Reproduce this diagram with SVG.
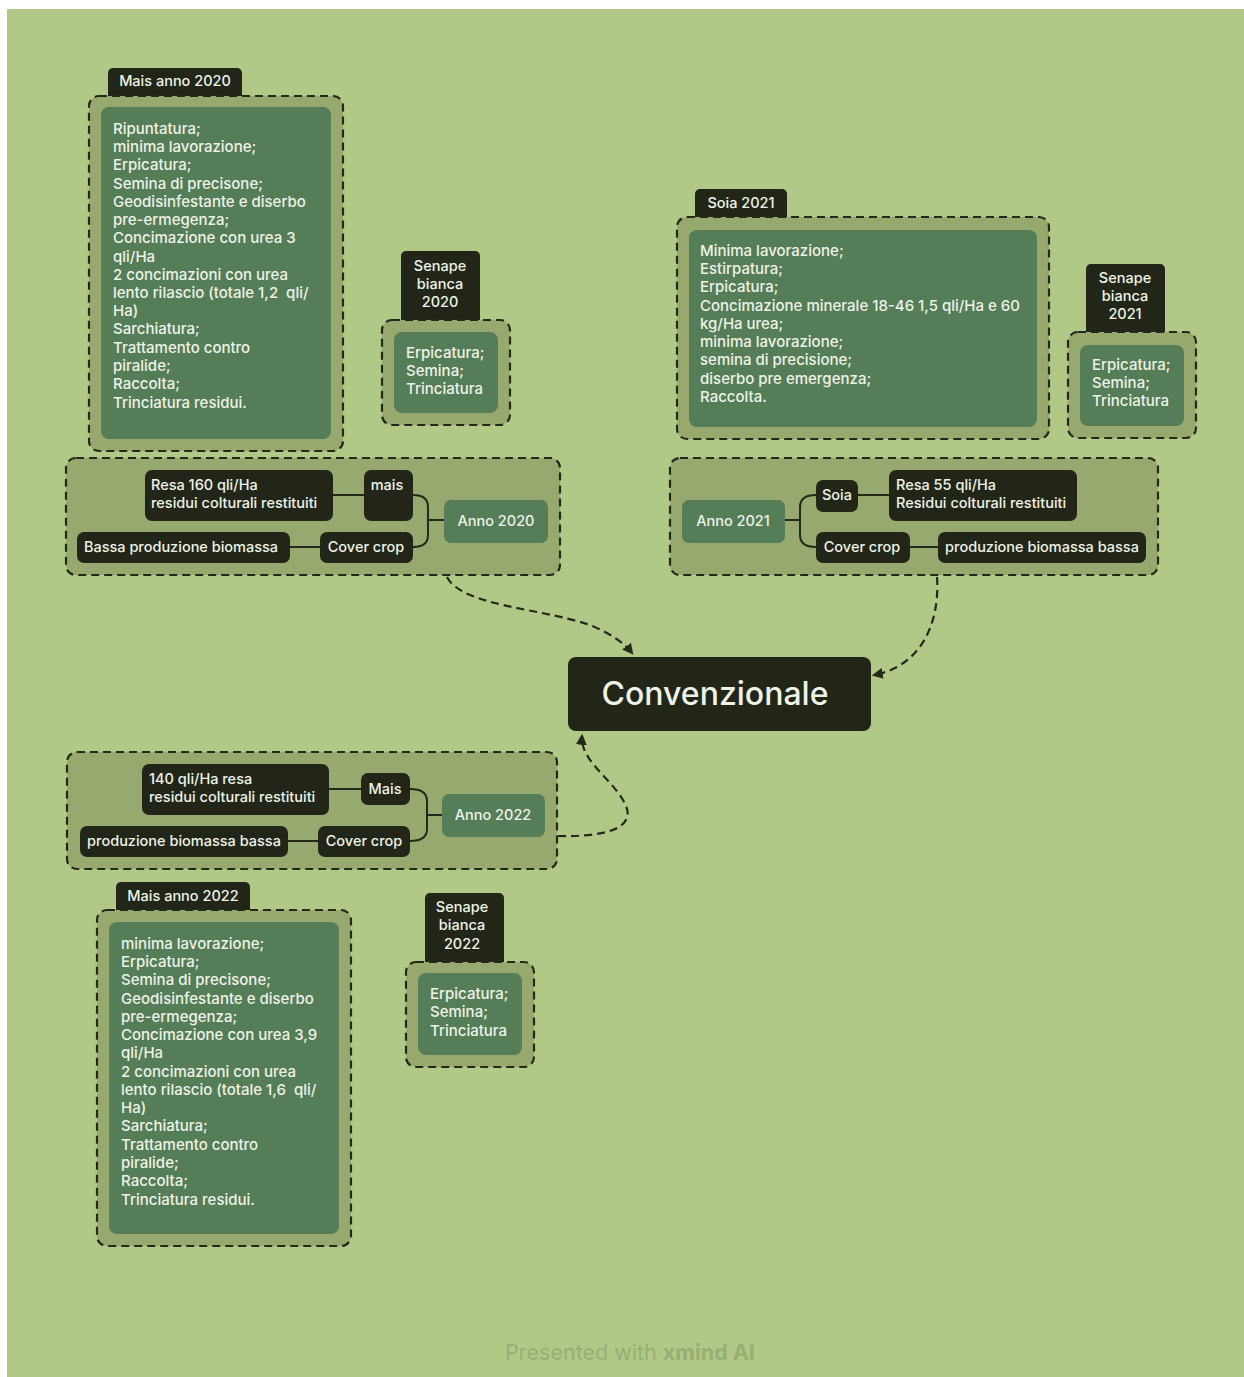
<svg xmlns="http://www.w3.org/2000/svg" width="1244" height="1377" viewBox="0 0 1244 1377">
<style>
text{font-family:Inter,Lato,"Liberation Sans",sans-serif;font-size:14.5px;font-weight:500;}
.bg{fill:#b2c886;}
.grp{fill:#97a96e;stroke:#232a1b;stroke-width:2.2;stroke-dasharray:8 5;}
.inner{fill:#557d58;}
.dark{fill:#222619;}
.tl{fill:#eef3e6;}
.lst text{font-size:15px;}
.pre{white-space:pre;}
.tc{fill:#eef3e6;text-anchor:middle;}
.ln{fill:none;stroke:#232a1b;stroke-width:2;}
.cn{fill:none;stroke:#232a1b;stroke-width:2.2;stroke-dasharray:8 5;}
</style>
<defs>
<marker id="ah" viewBox="0 0 10 10" refX="8" refY="5" markerWidth="5" markerHeight="5" orient="auto">
<path d="M0,0 L10,5 L0,10 z" fill="#232a1b"/>
</marker>
</defs>
<rect x="0" y="0" width="1244" height="1377" fill="#ffffff"/>
<rect class="bg" x="7" y="9" width="1237" height="1368"/>

<g id="connectors">
<path class="cn" d="M447,577 C462,606 540,608 590,625 C612,634 625,644 632,653" marker-end="url(#ah)"/>
<path class="cn" d="M937,577 C940,622 922,666 874,675" marker-end="url(#ah)"/>
<path class="cn" d="M558,836 C600,837 636,830 626,806 C615,780 580,762 582,736" marker-end="url(#ah)"/>
</g>

<g id="mais2020">
<rect class="dark" x="108" y="68" width="134" height="34" rx="5"/>
<text class="tc" x="175" y="86">Mais anno 2020</text>
<rect class="grp" x="89" y="96" width="254" height="355" rx="10"/>
<rect class="inner" x="101" y="107" width="230" height="332" rx="8"/>
<g class="lst">
<text class="tl" x="113" y="134">Ripuntatura;</text>
<text class="tl" x="113" y="152">minima lavorazione;</text>
<text class="tl" x="113" y="170">Erpicatura;</text>
<text class="tl" x="113" y="189">Semina di precisone;</text>
<text class="tl" x="113" y="207">Geodisinfestante e diserbo</text>
<text class="tl" x="113" y="225">pre-ermegenza;</text>
<text class="tl" x="113" y="243">Concimazione con urea 3</text>
<text class="tl" x="113" y="262">qli/Ha</text>
<text class="tl" x="113" y="280">2 concimazioni con urea</text>
<text class="tl pre" x="113" y="298">lento rilascio (totale 1,2  qli/</text>
<text class="tl" x="113" y="316">Ha)</text>
<text class="tl" x="113" y="334">Sarchiatura;</text>
<text class="tl" x="113" y="353">Trattamento contro</text>
<text class="tl" x="113" y="371">piralide;</text>
<text class="tl" x="113" y="389">Raccolta;</text>
<text class="tl" x="113" y="408">Trinciatura residui.</text>
</g>
</g>

<g id="senape2020">
<rect class="dark" x="401" y="251" width="79" height="75" rx="5"/>
<text class="tc" x="440" y="271">Senape</text>
<text class="tc" x="440" y="289">bianca</text>
<text class="tc" x="440" y="307">2020</text>
<rect class="grp" x="382" y="320" width="128" height="105" rx="10"/>
<rect class="inner" x="394" y="332" width="104" height="81" rx="8"/>
<g class="lst">
<text class="tl" x="406" y="358">Erpicatura;</text>
<text class="tl" x="406" y="376">Semina;</text>
<text class="tl" x="406" y="394">Trinciatura</text>
</g>
</g>

<g id="anno2020group">
<rect class="grp" x="66" y="458" width="494" height="117" rx="10"/>
<path class="ln" d="M333,495 H364 M413,495 Q428,495 428,507 V535 Q428,547 413,547 M428,520 H444 M290,547 H320"/>
</g>
<g id="resa160">
<rect class="dark" x="145" y="470" width="188" height="51" rx="7"/>
<text class="tl" x="151" y="490">Resa 160 qli/Ha</text>
<text class="tl" x="151" y="508">residui colturali restituiti</text>
</g>
<g id="mais2020node">
<rect class="dark" x="364" y="470" width="49" height="51" rx="7"/>
<text class="tc" x="387" y="490">mais</text>
</g>
<g id="anno2020">
<rect class="inner" x="444" y="500" width="104" height="43" rx="7"/>
<text class="tc" x="496" y="526">Anno 2020</text>
</g>
<g id="cover2020">
<rect class="dark" x="320" y="532" width="93" height="31" rx="7"/>
<text class="tc" x="366" y="552">Cover crop</text>
</g>
<g id="bassa2020">
<rect class="dark" x="77" y="532" width="213" height="31" rx="7"/>
<text class="tc" x="181" y="552">Bassa produzione biomassa</text>
</g>

<g id="soia2021">
<rect class="dark" x="695" y="189" width="92" height="34" rx="5"/>
<text class="tc" x="741" y="208">Soia 2021</text>
<rect class="grp" x="677" y="217" width="372" height="222" rx="10"/>
<rect class="inner" x="689" y="230" width="348" height="197" rx="8"/>
<g class="lst">
<text class="tl" x="700" y="256">Minima lavorazione;</text>
<text class="tl" x="700" y="274">Estirpatura;</text>
<text class="tl" x="700" y="292">Erpicatura;</text>
<text class="tl" x="700" y="311">Concimazione minerale 18-46 1,5 qli/Ha e 60</text>
<text class="tl" x="700" y="329">kg/Ha urea;</text>
<text class="tl" x="700" y="347">minima lavorazione;</text>
<text class="tl" x="700" y="365">semina di precisione;</text>
<text class="tl" x="700" y="384">diserbo pre emergenza;</text>
<text class="tl" x="700" y="402">Raccolta.</text>
</g>
</g>

<g id="senape2021">
<rect class="dark" x="1086" y="264" width="79" height="74" rx="5"/>
<text class="tc" x="1125" y="283">Senape</text>
<text class="tc" x="1125" y="301">bianca</text>
<text class="tc" x="1125" y="319">2021</text>
<rect class="grp" x="1068" y="332" width="128" height="106" rx="10"/>
<rect class="inner" x="1080" y="345" width="104" height="81" rx="8"/>
<g class="lst">
<text class="tl" x="1092" y="370">Erpicatura;</text>
<text class="tl" x="1092" y="388">Semina;</text>
<text class="tl" x="1092" y="406">Trinciatura</text>
</g>
</g>

<g id="anno2021group">
<rect class="grp" x="670" y="458" width="488" height="117" rx="10"/>
<path class="ln" d="M785,520 H800 M816,495 Q800,495 800,507 V535 Q800,547 816,547 M858,495 H889 M910,547 H938"/>
</g>
<g id="anno2021">
<rect class="inner" x="682" y="500" width="103" height="43" rx="7"/>
<text class="tc" x="733" y="526">Anno 2021</text>
</g>
<g id="soia">
<rect class="dark" x="816" y="480" width="42" height="32" rx="7"/>
<text class="tc" x="837" y="500">Soia</text>
</g>
<g id="resa55">
<rect class="dark" x="889" y="470" width="188" height="51" rx="7"/>
<text class="tl" x="896" y="490">Resa 55 qli/Ha</text>
<text class="tl" x="896" y="508">Residui colturali restituiti</text>
</g>
<g id="cover2021">
<rect class="dark" x="816" y="532" width="94" height="31" rx="7"/>
<text class="tc" x="862" y="552">Cover crop</text>
</g>
<g id="prod2021">
<rect class="dark" x="938" y="532" width="208" height="31" rx="7"/>
<text class="tc" x="1042" y="552">produzione biomassa bassa</text>
</g>

<g id="convenzionale">
<rect class="dark" x="568" y="657" width="303" height="74" rx="8"/>
<text class="tc" x="715" y="705" style="font-size:32px">Convenzionale</text>
</g>

<g id="anno2022group">
<rect class="grp" x="67" y="752" width="490" height="117" rx="10"/>
<path class="ln" d="M329,789 H361 M410,789 Q427,789 427,801 V829 Q427,841 410,841 M427,815 H442 M288,841 H318"/>
</g>
<g id="resa140">
<rect class="dark" x="142" y="764" width="187" height="51" rx="7"/>
<text class="tl" x="149" y="784">140 qli/Ha resa</text>
<text class="tl" x="149" y="802">residui colturali restituiti</text>
</g>
<g id="mais2022node">
<rect class="dark" x="361" y="773" width="49" height="32" rx="7"/>
<text class="tc" x="385" y="794">Mais</text>
</g>
<g id="anno2022">
<rect class="inner" x="442" y="794" width="103" height="43" rx="7"/>
<text class="tc" x="493" y="820">Anno 2022</text>
</g>
<g id="cover2022">
<rect class="dark" x="318" y="826" width="92" height="31" rx="7"/>
<text class="tc" x="364" y="846">Cover crop</text>
</g>
<g id="prod2022">
<rect class="dark" x="80" y="826" width="208" height="31" rx="7"/>
<text class="tc" x="184" y="846">produzione biomassa bassa</text>
</g>

<g id="mais2022">
<rect class="dark" x="116" y="882" width="134" height="34" rx="5"/>
<text class="tc" x="183" y="901">Mais anno 2022</text>
<rect class="grp" x="97" y="910" width="254" height="336" rx="10"/>
<rect class="inner" x="109" y="922" width="230" height="312" rx="8"/>
<g class="lst">
<text class="tl" x="121" y="949">minima lavorazione;</text>
<text class="tl" x="121" y="967">Erpicatura;</text>
<text class="tl" x="121" y="985">Semina di precisone;</text>
<text class="tl" x="121" y="1004">Geodisinfestante e diserbo</text>
<text class="tl" x="121" y="1022">pre-ermegenza;</text>
<text class="tl" x="121" y="1040">Concimazione con urea 3,9</text>
<text class="tl" x="121" y="1058">qli/Ha</text>
<text class="tl" x="121" y="1077">2 concimazioni con urea</text>
<text class="tl pre" x="121" y="1095">lento rilascio (totale 1,6  qli/</text>
<text class="tl" x="121" y="1113">Ha)</text>
<text class="tl" x="121" y="1131">Sarchiatura;</text>
<text class="tl" x="121" y="1150">Trattamento contro</text>
<text class="tl" x="121" y="1168">piralide;</text>
<text class="tl" x="121" y="1186">Raccolta;</text>
<text class="tl" x="121" y="1205">Trinciatura residui.</text>
</g>
</g>

<g id="senape2022">
<rect class="dark" x="425" y="893" width="79" height="75" rx="5"/>
<text class="tc" x="462" y="912">Senape</text>
<text class="tc" x="462" y="930">bianca</text>
<text class="tc" x="462" y="949">2022</text>
<rect class="grp" x="406" y="962" width="128" height="105" rx="10"/>
<rect class="inner" x="418" y="973" width="104" height="82" rx="8"/>
<g class="lst">
<text class="tl" x="430" y="999">Erpicatura;</text>
<text class="tl" x="430" y="1017">Semina;</text>
<text class="tl" x="430" y="1036">Trinciatura</text>
</g>
</g>

<text x="630" y="1360" style="font-size:21.5px;font-weight:400;fill:#97af72;text-anchor:middle">Presented with <tspan style="font-weight:700">xmind AI</tspan></text>
</svg>
